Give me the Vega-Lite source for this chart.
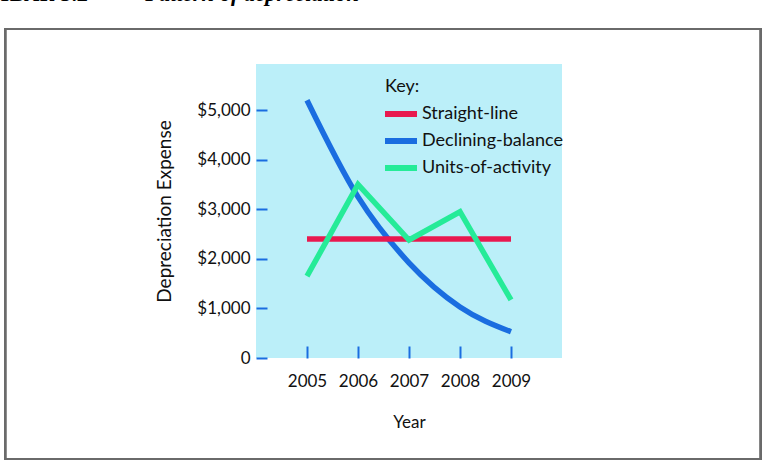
{
  "$schema": "https://vega.github.io/schema/vega-lite/v6.json",
  "width": 306,
  "height": 294,
  "autosize": {"type": "none"},
  "padding": {"left": 256, "top": 64, "right": 206, "bottom": 104},
  "background": "white",
  "title": {
    "text": "GAMBAR 5.2\u00a0\u00a0\u00a0\u00a0\u00a0\u00a0\u00a0\u00a0\u00a0\u00a0Pattern of depreciation",
    "anchor": "start",
    "frame": "group",
    "font": "Liberation Serif",
    "fontSize": 22.5,
    "fontWeight": "bold",
    "fontStyle": "italic",
    "color": "#000000",
    "baseline": "alphabetic",
    "dx": -297,
    "offset": 4
  },
  "config": {
    "view": {"fill": "#bbeff9", "stroke": null},
    "font": "Lato",
    "axis": {"grid": false, "domain": false}
  },
  "data": {
    "values": [
      {"method": "Straight-line", "year": 2005, "value": 2400},
      {"method": "Straight-line", "year": 2006, "value": 2400},
      {"method": "Straight-line", "year": 2007, "value": 2400},
      {"method": "Straight-line", "year": 2008, "value": 2400},
      {"method": "Straight-line", "year": 2009, "value": 2400},
      {"method": "Declining-balance", "year": 2005, "value": 5200},
      {"method": "Declining-balance", "year": 2006, "value": 3250},
      {"method": "Declining-balance", "year": 2007, "value": 1920},
      {"method": "Declining-balance", "year": 2008, "value": 1030},
      {"method": "Declining-balance", "year": 2009, "value": 530},
      {"method": "Units-of-activity", "year": 2005, "value": 1650},
      {"method": "Units-of-activity", "year": 2006, "value": 3500},
      {"method": "Units-of-activity", "year": 2007, "value": 2380},
      {"method": "Units-of-activity", "year": 2008, "value": 2950},
      {"method": "Units-of-activity", "year": 2009, "value": 1170}
    ]
  },
  "encoding": {
    "x": {
      "field": "year",
      "type": "quantitative",
      "scale": {"domain": [2004, 2010], "nice": false, "zero": false},
      "axis": {
        "values": [2005, 2006, 2007, 2008, 2009],
        "format": "d",
        "title": "Year",
        "tickSize": -12,
        "tickColor": "#1a6de0",
        "tickWidth": 2,
        "labelFontSize": 17,
        "labelColor": "#111111",
        "labelPadding": 27,
        "titleFontSize": 17,
        "titleFontWeight": "normal",
        "titleColor": "#111111",
        "titlePadding": 25
      }
    },
    "y": {
      "field": "value",
      "type": "quantitative",
      "scale": {"domain": [0, 5930], "nice": false},
      "axis": {
        "values": [0, 1000, 2000, 3000, 4000, 5000],
        "labelExpr": "datum.value == 0 ? '0' : '$' + format(datum.value, ',')",
        "title": "Depreciation Expense",
        "tickSize": -11,
        "tickColor": "#1a6de0",
        "tickWidth": 2,
        "labelFontSize": 17,
        "labelColor": "#111111",
        "labelPadding": 17,
        "titleFontSize": 19,
        "titleFontWeight": "normal",
        "titleColor": "#111111",
        "titlePadding": 22
      }
    },
    "color": {
      "field": "method",
      "type": "nominal",
      "sort": ["Straight-line", "Declining-balance", "Units-of-activity"],
      "scale": {
        "domain": ["Straight-line", "Declining-balance", "Units-of-activity"],
        "range": ["#e8194f", "#1a6de0", "#25eb98"]
      },
      "legend": {
        "title": "Key:",
        "orient": "none",
        "legendX": 129,
        "legendY": 14,
        "titleFontSize": 18,
        "titleFontWeight": "normal",
        "titleColor": "#111111",
        "titlePadding": 3,
        "labelFontSize": 18,
        "labelColor": "#111111",
        "labelOffset": 7,
        "symbolType": "M-1.25,0H1.417",
        "symbolStrokeWidth": 6,
        "symbolSize": 576,
        "rowPadding": 0
      }
    }
  },
  "layer": [
    {
      "mark": {"type": "rect", "fillOpacity": 0, "stroke": "#6a6a6a", "strokeWidth": 2, "clip": false},
      "encoding": {
        "x": {"datum": 1999.08, "type": "quantitative"},
        "x2": {"datum": 2013.9},
        "y": {"datum": 6636, "type": "quantitative"},
        "y2": {"datum": -2037},
        "color": {"value": null}
      }
    },
    {
      "transform": [{"filter": "datum.method == 'Declining-balance'"}],
      "mark": {"type": "line", "strokeWidth": 5.5, "interpolate": "monotone", "strokeCap": "butt"}
    },
    {
      "transform": [{"filter": "datum.method != 'Declining-balance'"}],
      "mark": {"type": "line", "strokeWidth": 5.5, "interpolate": "linear", "strokeCap": "butt"}
    }
  ]
}
